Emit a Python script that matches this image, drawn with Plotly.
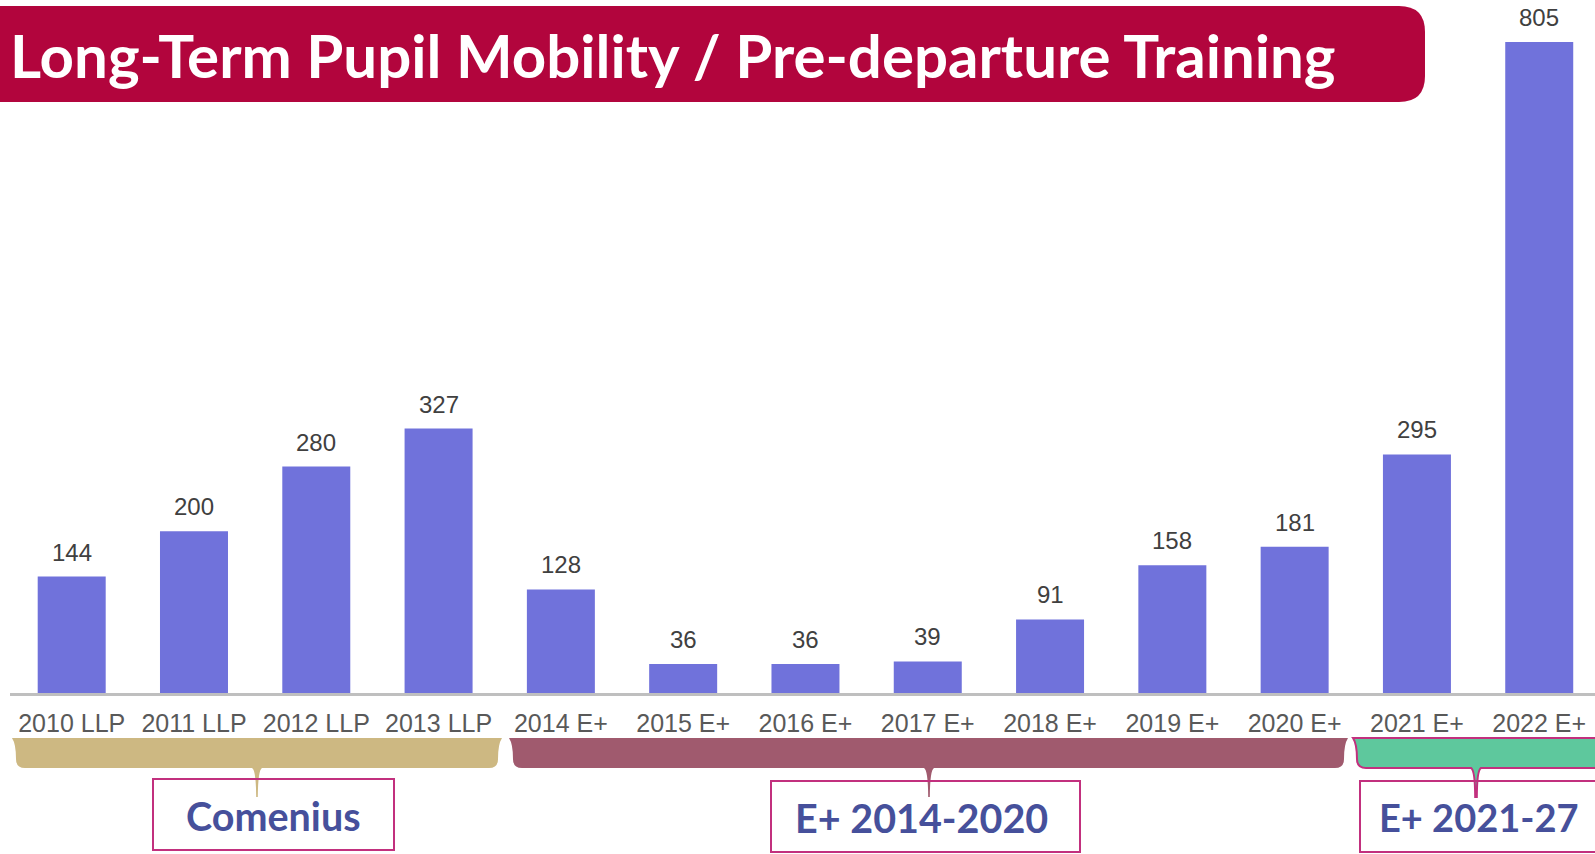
import plotly.graph_objects as go

categories = ["2010 LLP", "2011 LLP", "2012 LLP", "2013 LLP", "2014 E+", "2015 E+", "2016 E+",
              "2017 E+", "2018 E+", "2019 E+", "2020 E+", "2021 E+", "2022 E+"]
values = [144, 200, 280, 327, 128, 36, 36, 39, 91, 158, 181, 295, 805]
title_text = "Long-Term Pupil Mobility / Pre-departure Training"
group_names = ["Comenius", "E+ 2014-2020", "E+ 2021-27"]

BAR = "#7072DB"
BANNER = "#B2053D"
BOX_LINE = "#C2307E"
BOX_TEXT = "#46509B"
GROUP_COLORS = ["#CDB882", "#A05A6E", "#5EC89D"]

# pixel layout helpers
L, T, W, H = 10, 0, 1585, 693
FIG_W, FIG_H = 1595, 854


def px(x):
    return (x - L) / W


def py(y):
    return (T + H - y) / H


def P(x, y):
    return f"{px(x):.5f},{py(y):.5f}"


def bracket_path(x0, x1, xc, y0=738, y1=768, tail=29):
    return " ".join([
        "M", P(x0, y0),
        "L", P(x1, y0),
        "Q", P(x1 - 4, y0 + 6), P(x1 - 4, y1 - 9),
        "Q", P(x1 - 4, y1), P(x1 - 13, y1),
        "L", P(xc + 5, y1),
        "Q", P(xc + 1, y1 + 2), P(xc + 0.8, y1 + tail),
        "L", P(xc - 0.8, y1 + tail),
        "Q", P(xc - 1, y1 + 2), P(xc - 5, y1),
        "L", P(x0 + 13, y1),
        "Q", P(x0 + 4, y1), P(x0 + 4, y1 - 9),
        "Q", P(x0 + 4, y0 + 6), P(x0, y0),
        "Z",
    ])


def banner_path(x0, x1, y0, y1, r=26):
    return " ".join([
        "M", P(x0, y0),
        "L", P(x1 - r, y0),
        "Q", P(x1, y0), P(x1, y0 + r),
        "L", P(x1, y1 - r),
        "Q", P(x1, y1), P(x1 - r, y1),
        "L", P(x0, y1),
        "Z",
    ])


fig = go.Figure()
fig.add_trace(go.Bar(x=categories, y=values, marker=dict(color=BAR, line=dict(width=0)),
                     hoverinfo="x+y"))

annotations = []
for c, v in zip(categories, values):
    annotations.append(dict(x=c, y=v, xref="x", yref="y", text=str(v), showarrow=False,
                            yanchor="bottom", yshift=9,
                            font=dict(family="Liberation Sans, Arial", size=24, color="#404040")))

shapes = []
# banner
shapes.append(dict(type="path", xref="paper", yref="paper", path=banner_path(-30, 1425, 6, 102),
                   fillcolor=BANNER, line=dict(width=0), layer="above"))
annotations.append(dict(x=px(8), y=py(55), xref="paper", yref="paper", text=title_text,
                        showarrow=False, xanchor="left", yanchor="middle",
                        font=dict(family="Lato", size=60, color="white", weight="bold")))

# brackets
brackets = [
    dict(x0=12, x1=502, xc=257, color=GROUP_COLORS[0], line=0),
    dict(x0=509, x1=1348, xc=929, color=GROUP_COLORS[1], line=0),
    dict(x0=1353, x1=1650, xc=1476, color=GROUP_COLORS[2], line=2),
]
for b in brackets:
    shapes.append(dict(type="path", xref="paper", yref="paper",
                       path=bracket_path(b["x0"], b["x1"], b["xc"]),
                       fillcolor=b["color"],
                       line=dict(width=b["line"], color=BOX_LINE), layer="above"))

# boxes
boxes = [
    dict(x0=153, x1=394, y0=779, y1=850, tx=273, ty=815, size=39.5),
    dict(x0=771, x1=1080, y0=781, y1=852, tx=922, ty=817, size=39.5),
    dict(x0=1360, x1=1650, y0=781, y1=852, tx=1479, ty=817, size=38),
]
for bx, name in zip(boxes, group_names):
    shapes.append(dict(type="rect", xref="paper", yref="paper",
                       x0=px(bx["x0"]), x1=px(bx["x1"]), y0=py(bx["y0"]), y1=py(bx["y1"]),
                       line=dict(color=BOX_LINE, width=2), fillcolor="rgba(0,0,0,0)", layer="above"))
    annotations.append(dict(x=px(bx["tx"]), y=py(bx["ty"]), xref="paper", yref="paper",
                            text=name, showarrow=False, xanchor="center", yanchor="middle",
                            font=dict(family="Lato", size=bx["size"], color=BOX_TEXT, weight="bold")))

fig.update_layout(
    width=FIG_W, height=FIG_H,
    margin=dict(l=L, r=FIG_W - L - W, t=T, b=FIG_H - T - H, pad=0),
    paper_bgcolor="white", plot_bgcolor="white",
    bargap=0.444,
    showlegend=False,
    xaxis=dict(range=[-0.5045, 12.456], showgrid=False, zeroline=False,
               showline=True, linecolor="#BFBFBF", linewidth=3, ticks="",
               tickfont=dict(family="Liberation Sans, Arial", size=25, color="#595959"),
               ticklabelstandoff=6, fixedrange=True),
    yaxis=dict(range=[0, 857], visible=False, fixedrange=True),
    shapes=shapes,
    annotations=annotations,
)

fig.write_html("out.html", config={"displayModeBar": False},
               post_script="document.body.style.margin='0';document.body.style.overflow='hidden';")
